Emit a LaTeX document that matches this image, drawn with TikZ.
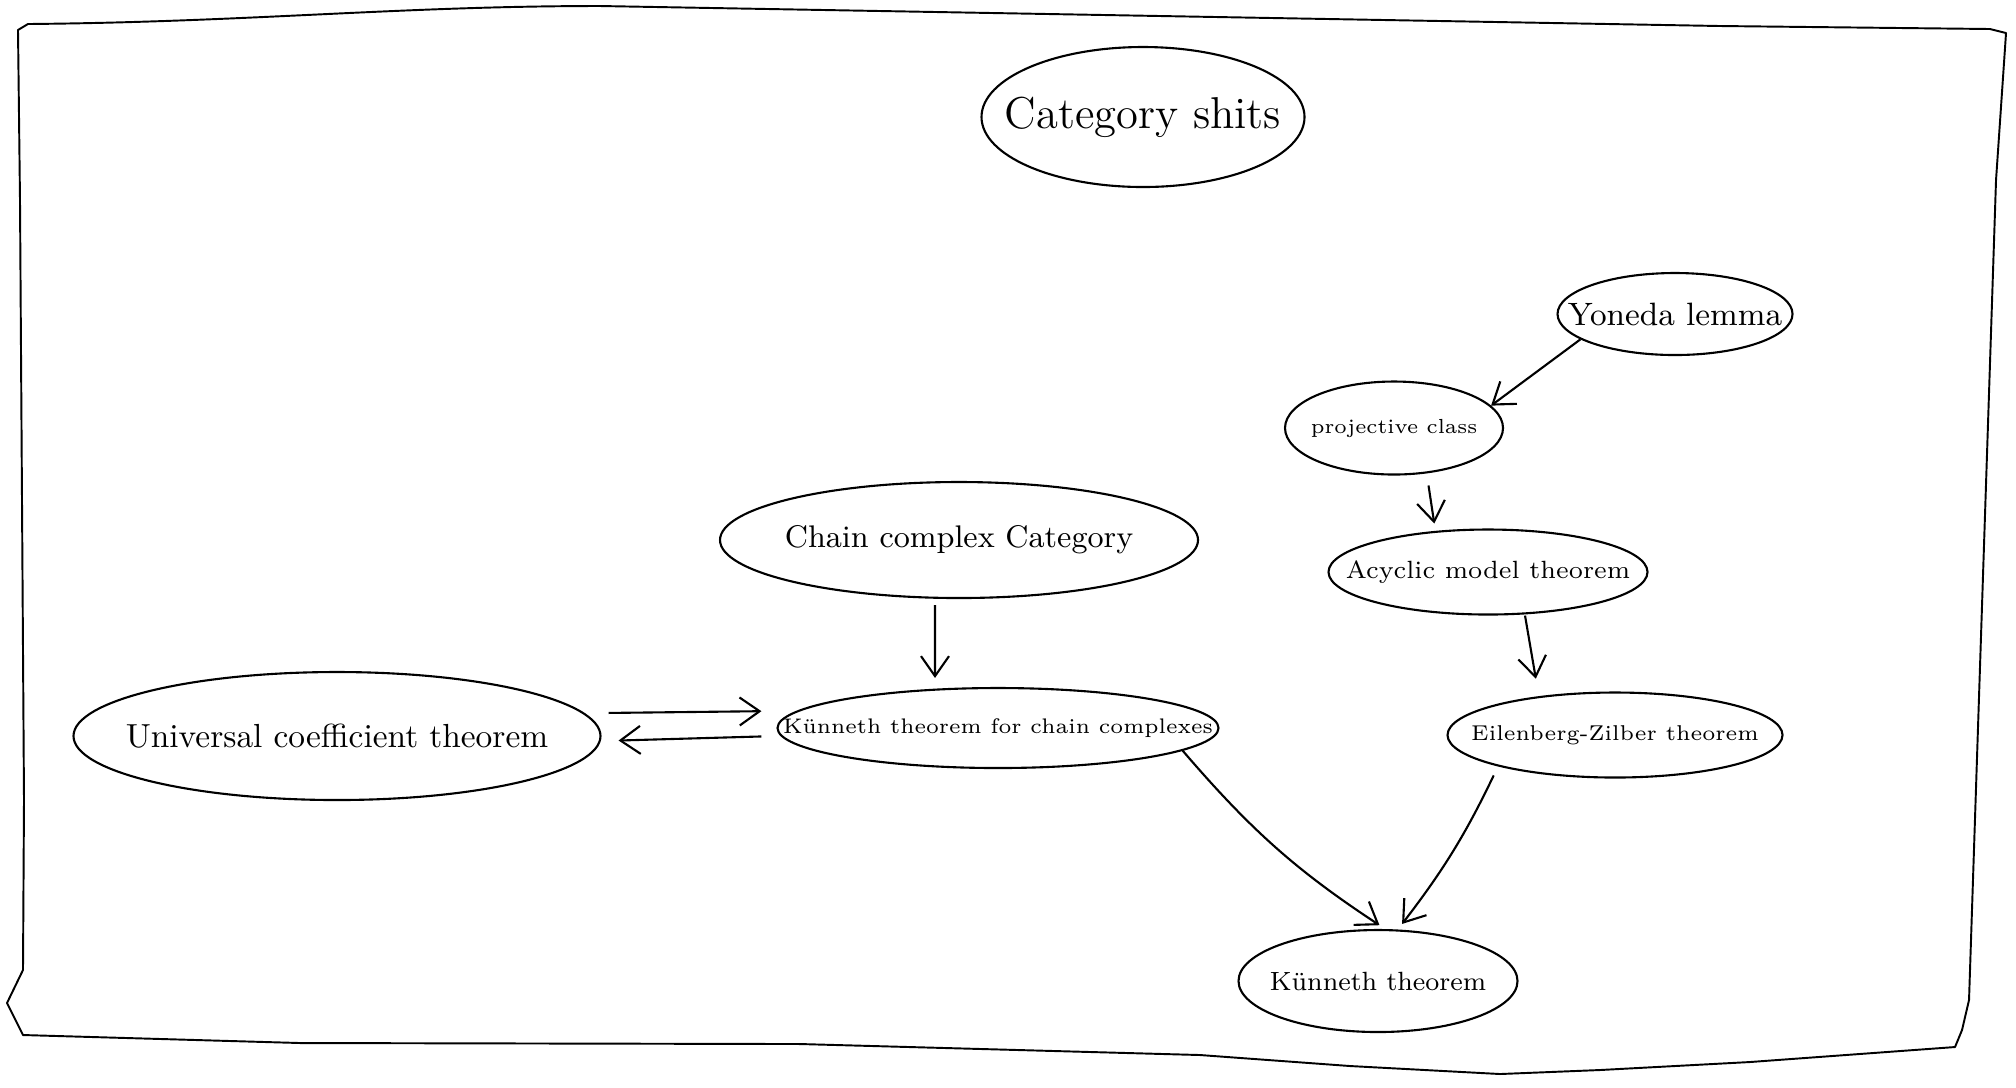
\documentclass[tikz,border=0pt]{standalone}
\usepackage{fontspec}
\usetikzlibrary{shapes.geometric,arrows.meta}
\begin{document}
\begin{tikzpicture}[
			>={Straight Barb[length=2mm,width=2.8mm]},
			line width=0.6pt,
			topic/.style={
				draw, ellipse,
				inner sep=-1cm
			},
			link/.style={->},
			frame/.style={line width=0.55pt, line join=round}
			]
			\useasboundingbox (0,0) rectangle (20.16,-10.87);
			
			\draw[frame] (0.28,-0.24) .. controls (2.5,-0.22) and (4,-0.06) .. (6,-0.06)
				-- (17.2,-0.26) -- (19.9,-0.29) -- (20.06,-0.33)
				-- (19.96,-1.8) -- (19.69,-10.0) -- (19.62,-10.3) -- (19.55,-10.47)
				-- (17.5,-10.62) -- (16.0,-10.70) -- (15.0,-10.74) -- (13.5,-10.66) -- (12.0,-10.55)
				-- (8.0,-10.44) -- (3,-10.43) -- (0.23,-10.35)
				-- (0.07,-10.03) -- (0.23,-9.7) -- (0.24,-8) -- (0.2,-2) -- (0.18,-0.3) -- (0.28,-0.24);
			
			\node[topic, minimum width=3.23cm, minimum height=1.40cm, font=\fontsize{12.7}{15}\selectfont] (cats) at (11.43,-1.17) {Category shits};
			
			\node[topic, minimum width=2.35cm, minimum height=0.82cm, font=\fontsize{9.2}{11}\selectfont] (yoneda) at (16.75,-3.14) {Yoneda lemma};
			\node[topic, minimum width=2.18cm, minimum height=0.93cm, font=\fontsize{5.8}{7}\selectfont] (projective) at (13.94,-4.28) {projective class};
			\node[topic, minimum width=3.19cm, minimum height=0.85cm, font=\fontsize{7.1}{9}\selectfont] (acyclic) at (14.88,-5.72) {Acyclic model theorem};
			\node[topic, minimum width=3.35cm, minimum height=0.85cm, font=\fontsize{6.1}{8}\selectfont] (eilenberg) at (16.15,-7.35) {Eilenberg-Zilber theorem};
			
			\node[topic, minimum width=4.78cm, minimum height=1.16cm, font=\fontsize{8.9}{11}\selectfont] (chain) at (9.59,-5.40) {Chain complex Category};
			\node[topic, minimum width=4.41cm, minimum height=0.80cm, font=\fontsize{6.0}{7}\selectfont] (kcc) at (9.98,-7.28) {Künneth theorem for chain complexes};
			\node[topic, minimum width=5.27cm, minimum height=1.28cm, font=\fontsize{9.5}{11}\selectfont] (uct) at (3.37,-7.36) {Universal coefficient theorem};
			
			\node[topic, minimum width=2.79cm, minimum height=1.02cm, font=\fontsize{7.5}{9}\selectfont] (kunneth) at (13.78,-9.81) {Künneth theorem};
			
			\draw[link] (yoneda.195) -- (projective.13);
			\draw[link, shorten <=1mm, shorten >=0.5mm] ([xshift=3.3mm]projective.south) -- ([xshift=-5.3mm]acyclic.north);
			\draw[link, shorten >=1.3mm] ([xshift=3.7mm]acyclic.south) -- ([xshift=-7.7mm]eilenberg.north);
			\draw[link, shorten <=0.6mm, shorten >=0.9mm] ([xshift=-2.4mm]chain.south) -- ([xshift=-6.3mm]kcc.north);
			
			\draw[link, shorten <=0.7mm, shorten >=1.5mm] ([yshift=2.3mm]uct.east) -- ([yshift=1.7mm]kcc.west);
			\draw[link, shorten <=1.5mm, shorten >=1.7mm] ([yshift=-0.8mm]kcc.west) -- ([yshift=-0.5mm]uct.east);
			
			\draw[link, shorten >=0.7mm] (kcc.-7) to[bend right=8] (kunneth.82);
			\draw[link, shorten <=1mm, shorten >=0.7mm] (eilenberg.195) to[bend left=6] (kunneth.69);
			
		\end{tikzpicture}
\end{document}
